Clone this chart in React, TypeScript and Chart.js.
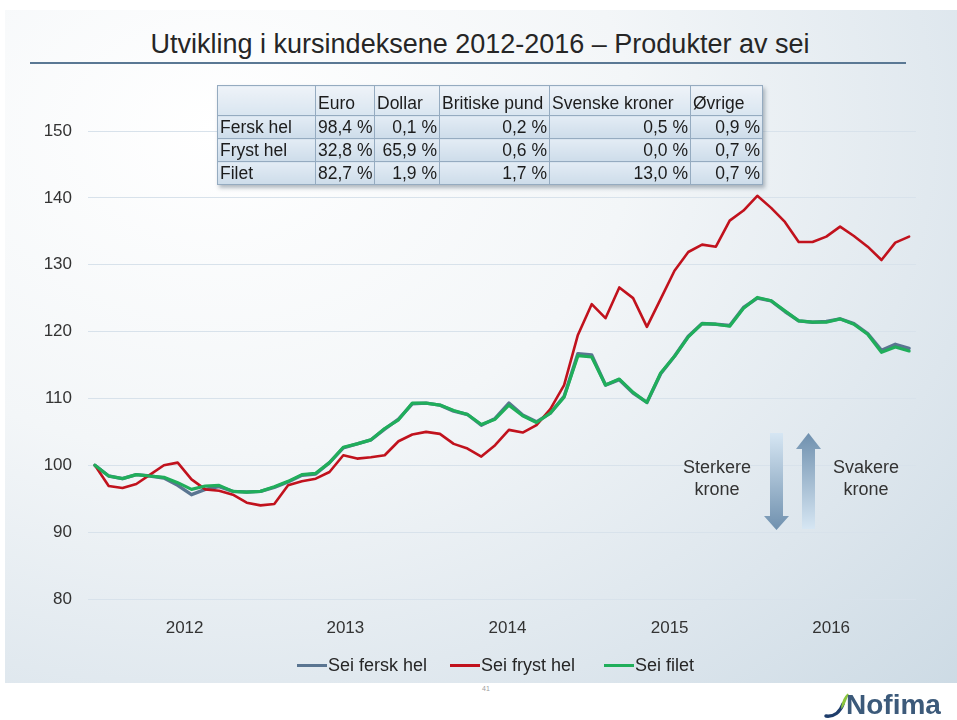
import React, { useEffect, useRef } from 'react';
import { Chart, registerables } from 'chart.js';

Chart.register(...registerables);

const FONT = '"Liberation Sans", Arial, Helvetica, sans-serif';

// ---- categories (monthly, Jan 2012 - Dec 2016) ----
const months = [
  'jan 2012', 'feb 2012', 'mar 2012', 'apr 2012', 'mai 2012', 'jun 2012', 'jul 2012', 'aug 2012', 'sep 2012', 'okt 2012', 'nov 2012', 'des 2012',
  'jan 2013', 'feb 2013', 'mar 2013', 'apr 2013', 'mai 2013', 'jun 2013', 'jul 2013', 'aug 2013', 'sep 2013', 'okt 2013', 'nov 2013', 'des 2013',
  'jan 2014', 'feb 2014', 'mar 2014', 'apr 2014', 'mai 2014', 'jun 2014', 'jul 2014', 'aug 2014', 'sep 2014', 'okt 2014', 'nov 2014', 'des 2014',
  'jan 2015', 'feb 2015', 'mar 2015', 'apr 2015', 'mai 2015', 'jun 2015', 'jul 2015', 'aug 2015', 'sep 2015', 'okt 2015', 'nov 2015', 'des 2015',
  'jan 2016', 'feb 2016', 'mar 2016', 'apr 2016', 'mai 2016', 'jun 2016', 'jul 2016', 'aug 2016', 'sep 2016', 'okt 2016', 'nov 2016', 'des 2016',
];
// year tick labels and where (in category units) they sit on the axis
const yearLabels = ['2012', '2013', '2014', '2015', '2016'];
const yearTickAt = [6.5, 18.15, 29.9, 41.65, 53.35];
const yMin = 80;
const yMax = 150;
const yStep = 10;

// ---- series values ----
const seiFerskHel = [
  100, 98.4, 98.0, 98.6, 98.4, 98.1, 97.0, 95.6, 96.4, 96.8, 96.1, 96.0,
  96.1, 96.7, 97.5, 98.5, 98.7, 100.4, 102.6, 103.2, 103.8, 105.4, 106.9, 109.2,
  109.3, 109.0, 108.1, 107.6, 106.0, 107.0, 109.3, 107.5, 106.5, 107.8, 110.3, 116.7,
  116.5, 112.0, 112.8, 110.8, 109.4, 113.7, 116.3, 119.3, 121.2, 121.1, 120.9, 123.6,
  125.0, 124.6, 123.0, 121.6, 121.4, 121.5, 121.9, 121.2, 119.7, 117.2, 118.1, 117.5,
];
const seiFrystHel = [
  100, 96.9, 96.6, 97.2, 98.6, 100.0, 100.4, 97.9, 96.4, 96.2, 95.6, 94.4,
  94.0, 94.2, 97.0, 97.6, 98.0, 99.0, 101.5, 101.0, 101.2, 101.5, 103.6, 104.6,
  105.0, 104.7, 103.2, 102.5, 101.3, 103.0, 105.3, 104.9, 106.0, 108.4, 112.0, 119.5,
  124.1, 122.0, 126.6, 125.0, 120.7, 124.9, 129.1, 131.9, 133.0, 132.7, 136.6, 138.1,
  140.3, 138.5, 136.4, 133.4, 133.4, 134.2, 135.7, 134.3, 132.7, 130.7, 133.3, 134.2,
];
const seiFilet = [
  100, 98.4, 98.0, 98.6, 98.4, 98.2, 97.4, 96.4, 96.9, 97.0, 96.1, 96.0,
  96.1, 96.8, 97.6, 98.6, 98.8, 100.4, 102.7, 103.2, 103.8, 105.5, 106.8, 109.3,
  109.3, 109.0, 108.2, 107.6, 106.1, 106.9, 109.0, 107.4, 106.4, 107.8, 110.2, 116.4,
  116.2, 112.0, 112.9, 110.9, 109.4, 113.8, 116.3, 119.2, 121.2, 121.1, 120.8, 123.5,
  125.1, 124.6, 123.1, 121.6, 121.4, 121.4, 121.9, 121.1, 119.6, 116.9, 117.7, 117.1,
];
const seriesNames = ['Sei fersk hel', 'Sei fryst hel', 'Sei filet'];
const seriesColors = ['#5a7591', '#c1121d', '#20ae5b'];
const seriesWidths = [3.4, 2.6, 3.2];

// ---- currency table ----
const tableCurrencies = ['Euro', 'Dollar', 'Britiske pund', 'Svenske kroner', 'Øvrige'];
const tableProducts = ['Fersk hel', 'Fryst hel', 'Filet'];
const shareFerskHel = ['98,4 %', '0,1 %', '0,2 %', '0,5 %', '0,9 %'];
const shareFrystHel = ['32,8 %', '65,9 %', '0,6 %', '0,0 %', '0,7 %'];
const shareFilet = ['82,7 %', '1,9 %', '1,7 %', '13,0 %', '0,7 %'];

const titleText = 'Utvikling i kursindeksene 2012-2016 – Produkter av sei';

const colWidths = [98, 59, 65, 110, 141, 72];

function CurrencyTable() {
  const rows = [shareFerskHel, shareFrystHel, shareFilet];
  const cellBase: React.CSSProperties = {
    border: '1px solid #95abc0',
    padding: '0 2px',
    whiteSpace: 'nowrap',
    background: 'linear-gradient(180deg, #e3ecf5 0%, #cddcea 100%)',
    color: '#1c1c1c',
    overflow: 'hidden',
  };
  const headBg = 'linear-gradient(180deg, #eef3f8 0%, #d9e5f0 100%)';
  return (
    <table
      style={{
        position: 'absolute',
        left: 217,
        top: 85,
        borderCollapse: 'collapse',
        tableLayout: 'fixed',
        width: 545,
        fontFamily: FONT,
        fontSize: 17.5,
        lineHeight: '20px',
        boxShadow: '2px 3px 4px rgba(40,60,80,0.35)',
        zIndex: 3,
      }}
    >
      <colgroup>
        {colWidths.map((w, i) => (
          <col key={i} style={{ width: w }} />
        ))}
      </colgroup>
      <tbody>
        <tr style={{ height: 30 }}>
          <td style={{ ...cellBase, background: headBg }}></td>
          {tableCurrencies.map((c) => (
            <td key={c} style={{ ...cellBase, textAlign: 'left', paddingTop: 4, background: headBg }}>
              {c}
            </td>
          ))}
        </tr>
        {rows.map((r, ri) => (
          <tr key={ri} style={{ height: 23 }}>
            <td style={{ ...cellBase, textAlign: 'left' }}>{tableProducts[ri]}</td>
            {r.map((v, ci) => (
              <td key={ci} style={{ ...cellBase, textAlign: 'right' }}>
                {v}
              </td>
            ))}
          </tr>
        ))}
      </tbody>
    </table>
  );
}

function Arrows() {
  return (
    <svg width={957} height={720} style={{ position: 'absolute', left: 0, top: 0, zIndex: 2, pointerEvents: 'none' }}>
      <defs>
        <linearGradient id="downGrad" x1="0" y1="0" x2="0" y2="1">
          <stop offset="0" stopColor="#d6e6f3" />
          <stop offset="1" stopColor="#6f90ae" />
        </linearGradient>
        <linearGradient id="upGrad" x1="0" y1="0" x2="0" y2="1">
          <stop offset="0" stopColor="#6f90ae" />
          <stop offset="1" stopColor="#d6e6f3" />
        </linearGradient>
      </defs>
      <polygon points="770,433 783,433 783,516 789,516 776.5,530 764,516 770,516" fill="url(#downGrad)" />
      <polygon points="808.5,433 821,449 815,449 815,529 802,529 802,449 796,449" fill="url(#upGrad)" />
      {/* Nofima swoosh */}
      <path d="M826,716 C834,717 840,712 843,704" stroke="#1e3d6b" strokeWidth={3.5} fill="none" strokeLinecap="round" />
      <path d="M842,706 C843,700 845,697 848,694 C846,699 845,703 842,707 Z" fill="#8cc63e" stroke="#8cc63e" strokeWidth={1.5} />
    </svg>
  );
}

function Legend() {
  const starts = [297, 450, 604];
  return (
    <>
      {seriesNames.map((name, i) => (
        <div
          key={name}
          style={{
            position: 'absolute',
            left: starts[i],
            top: 654,
            height: 22,
            display: 'flex',
            alignItems: 'center',
            fontFamily: FONT,
            fontSize: 18,
            color: '#262626',
            whiteSpace: 'nowrap',
            zIndex: 2,
          }}
        >
          <span style={{ display: 'inline-block', width: 30, height: 3, background: seriesColors[i], marginRight: 1 }} />
          <span>{name}</span>
        </div>
      ))}
    </>
  );
}

export default function App() {
  const canvasRef = useRef<HTMLCanvasElement | null>(null);

  useEffect(() => {
    if (!canvasRef.current) return;
    const values = [seiFerskHel, seiFrystHel, seiFilet];
    const orders = [3, 2, 1];
    const chart = new Chart(canvasRef.current, {
      type: 'line',
      data: {
        labels: months,
        datasets: values.map((d, i) => ({
          label: seriesNames[i],
          data: d,
          borderColor: seriesColors[i],
          backgroundColor: seriesColors[i],
          borderWidth: seriesWidths[i],
          pointRadius: 0,
          tension: 0,
          fill: false,
          order: orders[i],
        })),
      },
      options: {
        animation: false,
        responsive: false,
        maintainAspectRatio: false,
        devicePixelRatio: 1,
        layout: { padding: { top: 131, right: 41, left: 0, bottom: 0 } },
        elements: { line: { borderJoinStyle: 'round', borderCapStyle: 'round' } },
        plugins: {
          legend: { display: false },
          tooltip: { enabled: false },
          title: { display: false },
        },
        scales: {
          x: {
            type: 'category',
            offset: true,
            grid: { display: false },
            border: { display: false },
            afterBuildTicks: (s: any) => {
              s.ticks = yearTickAt.map((v) => ({ value: v }));
            },
            ticks: {
              autoSkip: false,
              maxRotation: 0,
              minRotation: 0,
              padding: 11,
              color: '#333333',
              font: { size: 17, family: FONT },
              callback: (_v: any, i: number) => yearLabels[i],
            },
            afterFit: (s: any) => {
              s.height = 121;
            },
          },
          y: {
            min: yMin,
            max: yMax,
            grid: { color: '#d8e2eb', lineWidth: 1, drawTicks: false },
            border: { display: false },
            ticks: {
              stepSize: yStep,
              padding: 16,
              color: '#333333',
              font: { size: 17, family: FONT },
            },
            afterFit: (s: any) => {
              s.width = 88;
            },
          },
        },
      },
    });
    return () => chart.destroy();
  }, []);

  const noteStyle: React.CSSProperties = {
    position: 'absolute',
    top: 456,
    width: 100,
    textAlign: 'center',
    fontSize: 18,
    lineHeight: '22px',
    color: '#333',
    zIndex: 2,
  };

  return (
    <div
      style={{
        position: 'absolute',
        left: 0,
        top: 0,
        width: 957,
        height: 720,
        background: '#ffffff',
        overflow: 'hidden',
        fontFamily: FONT,
      }}
    >
      <div
        style={{
          position: 'absolute',
          left: 5,
          top: 10,
          width: 952,
          height: 673,
          background: 'radial-gradient(ellipse 110% 120% at 22% 18%, #ffffff 0%, #f3f6f8 40%, #dde6ed 75%, #ccdae4 100%)',
        }}
      />
      <div
        style={{
          position: 'absolute',
          left: 0,
          top: 31,
          width: 960,
          textAlign: 'center',
          fontSize: 27,
          lineHeight: '27px',
          color: '#262626',
          whiteSpace: 'nowrap',
        }}
      >
        {titleText}
      </div>
      <div style={{ position: 'absolute', left: 30, top: 62, width: 876, height: 1.5, background: '#5a7894' }} />
      <canvas ref={canvasRef} width={957} height={720} style={{ position: 'absolute', left: 0, top: 0, zIndex: 1 }} />
      <CurrencyTable />
      <Arrows />
      <div style={{ ...noteStyle, left: 667 }}>
        Sterkere
        <br />
        krone
      </div>
      <div style={{ ...noteStyle, left: 816 }}>
        Svakere
        <br />
        krone
      </div>
      <Legend />
      <div style={{ position: 'absolute', left: 482, top: 685, fontSize: 7, color: '#a0a0a0' }}>41</div>
      <div
        style={{
          position: 'absolute',
          left: 846,
          top: 691,
          fontSize: 28,
          lineHeight: '28px',
          fontWeight: 'bold',
          color: '#3c5a7a',
          zIndex: 2,
        }}
      >
        Nofima
      </div>
    </div>
  );
}
